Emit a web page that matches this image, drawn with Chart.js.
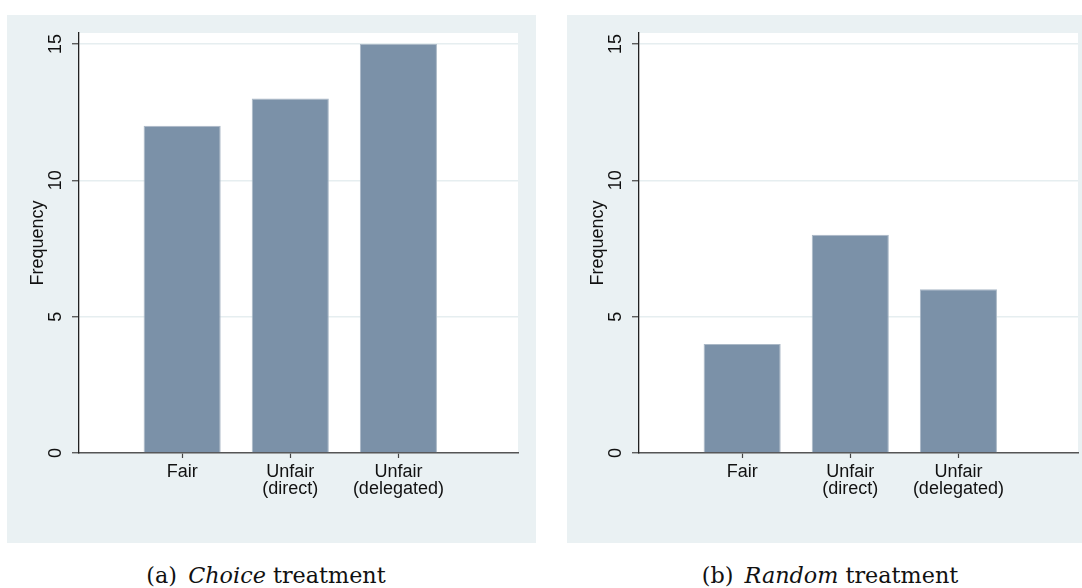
<!DOCTYPE html>
<html>
<head>
<meta charset="utf-8">
<script src="https://cdn.jsdelivr.net/npm/chart.js@4.4.1/dist/chart.umd.min.js"></script>
<style>
  html, body { margin: 0; padding: 0; width: 1082px; height: 588px; overflow: hidden; background: #fff; }
  .panel { position: absolute; top: 15px; width: 529px; height: 528px; background: #eaf1f3; }
  .caption { position: absolute; top: 562px; width: 400px; text-align: center;
             font-family: "DejaVu Serif", serif; font-size: 22.3px; line-height: 26px; color: #111; }
</style>
</head>
<body>
<div class="panel" style="left:7px"><canvas id="choice-chart"></canvas></div>
<div class="panel" style="left:567px"><canvas id="random-chart"></canvas></div>
<div class="caption" style="left:66px">(a)&ensp;<i>Choice</i> treatment</div>
<div class="caption" style="left:630px">(b)&ensp;<i>Random</i> treatment</div>

<script>
// Data
const categories = [['Fair'], ['Unfair', '(direct)'], ['Unfair', '(delegated)']];
const categoryPositions = [1, 2, 3];
const choiceValues = [12, 13, 15];
const randomValues = [4, 8, 6];
const yTickValues = [0, 5, 10, 15];

const BAR_COLOR = '#7b91a8';
const FONT = { family: '"Liberation Sans", Arial, sans-serif', size: 18 };

// Paint the white plot region and draw rotated y tick labels (Stata style)
const plotAreaPlugin = {
    id: 'plotArea',
    beforeDraw(chart) {
        const { ctx, chartArea } = chart;
        ctx.save();
        ctx.fillStyle = '#ffffff';
        ctx.fillRect(chartArea.left, chartArea.top, chartArea.right - chartArea.left, chartArea.bottom - chartArea.top);
        ctx.restore();
    },
    afterDraw(chart) {
        const { ctx, chartArea } = chart;
        const yScale = chart.scales.y;
        ctx.save();
        ctx.font = `${FONT.size}px ${FONT.family}`;
        ctx.fillStyle = '#111';
        ctx.textAlign = 'center';
        ctx.textBaseline = 'middle';
        yScale.ticks.forEach(tick => {
            const y = yScale.getPixelForValue(tick.value);
            ctx.save();
            ctx.translate(chartArea.left - 23, y);
            ctx.rotate(-Math.PI / 2);
            ctx.fillText(String(tick.value), 0, 0);
            ctx.restore();
        });
        ctx.restore();
    }
};

function createPanel(canvasId, values) {
    const ctx = document.getElementById(canvasId).getContext('2d');

    return new Chart(ctx, {
        type: 'bar',
        data: {
            datasets: [{
                data: categoryPositions.map((x, i) => ({ x: x, y: values[i] })),
                backgroundColor: BAR_COLOR,
                borderColor: '#aab8c6',
                borderWidth: 1,
                categoryPercentage: 1,
                barPercentage: 0.713
            }]
        },
        options: {
            responsive: true,
            maintainAspectRatio: false,
            animation: false,
            layout: { padding: { top: 18, right: 18, bottom: 0, left: 0 } },
            plugins: {
                legend: { display: false },
                tooltip: { enabled: false }
            },
            scales: {
                x: {
                    type: 'linear',
                    min: 0.046,
                    max: 4.106,
                    offset: false,
                    afterBuildTicks: scale => { scale.ticks = categoryPositions.map(v => ({ value: v })); },
                    afterFit: scale => { scale.height = 90; },
                    grid: {
                        display: true,
                        offset: false,
                        drawOnChartArea: false,
                        drawTicks: true,
                        tickLength: 5,
                        tickColor: '#444',
                        tickWidth: 1.2
                    },
                    border: { color: '#555', width: 1.6 },
                    ticks: {
                        autoSkip: false,
                        maxRotation: 0,
                        padding: 5.5,
                        color: '#111',
                        font: { ...FONT, lineHeight: 0.95 },
                        callback: value => categories[value - 1] || ''
                    }
                },
                y: {
                    min: 0,
                    max: 15.4,
                    afterBuildTicks: scale => { scale.ticks = yTickValues.map(v => ({ value: v })); },
                    afterFit: scale => { scale.width = 72; },
                    grid: {
                        color: c => (c.tick && c.tick.value === 0) ? 'rgba(0,0,0,0)' : '#e6eef0',
                        lineWidth: 1.5,
                        tickLength: 7,
                        tickColor: '#444',
                        tickWidth: 1.2
                    },
                    border: { color: '#222', width: 1.3 },
                    ticks: { display: false },
                    title: {
                        display: true,
                        text: 'Frequency',
                        color: '#111',
                        font: { ...FONT, lineHeight: 1.2 },
                        padding: { top: 20, bottom: 0 }
                    }
                }
            }
        },
        plugins: [plotAreaPlugin]
    });
}

createPanel('choice-chart', choiceValues);
createPanel('random-chart', randomValues);
</script>
</body>
</html>
